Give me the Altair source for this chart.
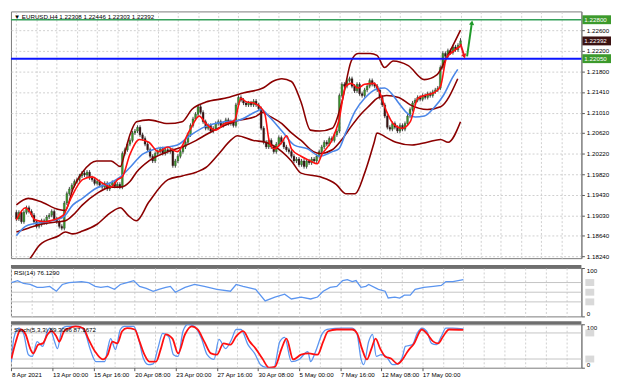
import altair as alt
import pandas as pd

# ---------------- data ----------------
symbol = "EURUSD,H4"
last_ohlc = [1.22308, 1.22446, 1.22303, 1.22392]
rsi_title = "RSI(14) 76.1290"
stoch_title = "Stoch(5,3,3) 89.3096 87.1672"

closes = [1.18964, 1.1909, 1.1891, 1.1909,
          1.1918, 1.19108, 1.19036, 1.1891,
          1.1882, 1.18856, 1.18928, 1.18892,
          1.19, 1.19036, 1.19108, 1.18964,
          1.1891, 1.1882, 1.18784, 1.1927,
          1.1945, 1.1954, 1.19612, 1.19684,
          1.1972, 1.19792, 1.19846, 1.1981,
          1.19864, 1.19756, 1.1972, 1.19648,
          1.19684, 1.19612, 1.19576, 1.19648,
          1.1954, 1.19612, 1.19666, 1.19594,
          1.1963, 1.19576, 1.20224, 1.20296,
          1.20404, 1.20476, 1.2062, 1.20656,
          1.20728, 1.20584, 1.20512, 1.20404,
          1.20296, 1.2017, 1.2008, 1.20224,
          1.2026, 1.20314, 1.20224, 1.20296,
          1.2026, 1.20296, 1.1999, 1.2008,
          1.2017, 1.2026, 1.2035, 1.2044,
          1.20584, 1.20764, 1.2089, 1.2098,
          1.21124, 1.21016, 1.20836, 1.2071,
          1.20764, 1.20656, 1.2071, 1.208,
          1.20836, 1.20764, 1.208, 1.20872,
          1.208, 1.20836, 1.20764, 1.2116,
          1.21304, 1.2125, 1.21196, 1.2116,
          1.21196, 1.2116, 1.21232, 1.2116,
          1.21088, 1.2071, 1.2044, 1.2035,
          1.20476, 1.2035, 1.2026, 1.20404,
          1.2053, 1.2044, 1.2035, 1.20296,
          1.2026, 1.2017, 1.2008, 1.20116,
          1.20008, 1.2008, 1.19972, 1.2008,
          1.20044, 1.20116, 1.2008, 1.2017,
          1.2026, 1.2035, 1.2044, 1.20404,
          1.20512, 1.20476, 1.20584, 1.20656,
          1.2134, 1.21556, 1.2152, 1.21628,
          1.21664, 1.2152, 1.2143, 1.21556,
          1.21376, 1.2134, 1.21448, 1.2152,
          1.21628, 1.21556, 1.2152, 1.21448,
          1.21304, 1.2116, 1.20944, 1.20728,
          1.20692, 1.208, 1.20728, 1.20656,
          1.20764, 1.20692, 1.208, 1.20944,
          1.2107, 1.21196, 1.2125, 1.21304,
          1.21268, 1.2134, 1.21304, 1.21376,
          1.2134, 1.21412, 1.21448, 1.21484,
          1.2188, 1.2215, 1.22096, 1.22204,
          1.22168, 1.22276, 1.22222, 1.22308,
          1.22392]
first_open = 1.1909
wick = 0.0004

tick_labels = ["8 Apr 2021", "13 Apr 00:00", "15 Apr 16:00", "20 Apr 08:00", "23 Apr 00:00",
               "27 Apr 16:00", "30 Apr 08:00", "5 May 00:00", "7 May 16:00", "12 May 08:00",
               "17 May 00:00"]
price_ticks = [1.18240, 1.18640, 1.19030, 1.19430, 1.19820, 1.20220, 1.20620,
               1.21010, 1.21410, 1.21800, 1.22200, 1.22600]

red_i = [0, 3.6, 5.5, 7.3, 11.1, 14.9, 18.6, 21.6, 26.2, 29.9, 33.7, 37.5, 40.1, 42, 45, 48.8,
         52.5, 56.3, 60.1, 61.9, 63.8, 68.7, 72.5, 75.1, 78.9, 82.6, 86.4, 89, 91.3, 93.9, 96.6,
         98.5, 100.3, 102.2, 105.2, 107.1, 109, 112.8, 116.5, 119.2, 121.1, 125.2, 127.8, 130.5,
         132.7, 135.4, 138, 141.8, 144, 146.7, 149.3, 153, 156.1, 159.1, 161.7, 165.5, 168.1,
         170.4, 173, 176]
red_v = [1.18946, 1.1918, 1.1909, 1.18946, 1.1891, 1.18946, 1.19036, 1.1936, 1.1972, 1.19774,
         1.19666, 1.19576, 1.1972, 1.19774, 1.20206, 1.20494, 1.2044, 1.2026, 1.2035, 1.20296,
         1.2026, 1.20674, 1.20944, 1.208, 1.20674, 1.208, 1.20854, 1.21286, 1.21214, 1.21196,
         1.21124, 1.2098, 1.2044, 1.20314, 1.2044, 1.20566, 1.20314, 1.2017, 1.2008, 1.20026,
         1.20206, 1.20494, 1.20854, 1.2152, 1.21574, 1.21484, 1.21556, 1.21574, 1.21394,
         1.21034, 1.208, 1.2071, 1.20836, 1.21286, 1.2134, 1.21394, 1.2152, 1.2206, 1.22186,
         1.22294]

blue_i = [0, 3.6, 7.3, 12.2, 18.6, 22.4, 26.2, 31.1, 37.5, 41.2, 45, 49.9, 55.2, 60.1, 63.8,
          68.7, 75.1, 82.6, 87.5, 95.1, 97, 100.3, 105.2, 110.1, 115.4, 120.3, 125.2, 127.8,
          130.5, 134.2, 138, 142.9, 145.9, 149.3, 151.5, 155.3, 158, 161.7, 165.5, 169.2, 173,
          174.9]
blue_v = [1.1864, 1.1882, 1.18874, 1.1891, 1.19, 1.19234, 1.1936, 1.1954, 1.19666, 1.19774,
          1.19954, 1.20206, 1.20314, 1.2035, 1.20386, 1.20566, 1.20746, 1.20836, 1.20854,
          1.21034, 1.2107, 1.20926, 1.20656, 1.20386, 1.20314, 1.2017, 1.2026, 1.20314, 1.2062,
          1.21034, 1.21286, 1.21466, 1.21484, 1.2134, 1.21196, 1.2098, 1.20926, 1.20944,
          1.21106, 1.2134, 1.217, 1.21844]

bb_up_i = [0, 4.7, 9.2, 16.8, 19.4, 22.4, 26.2, 31.8, 37.5, 41.2, 43.1, 45, 47.6, 52.5, 60.1,
           65.7, 69.5, 75.1, 82.6, 90.2, 97.7, 101.5, 105.2, 109, 112.8, 116.5, 120.3, 125.2,
           129, 132.7, 135.4, 140.2, 142.9, 145.9, 149.3, 155.3, 161.7, 166.6, 170.4, 176]
bb_up_v = [1.19234, 1.1936, 1.19306, 1.19144, 1.19126, 1.1954, 1.19864, 1.2008, 1.2008,
           1.19972, 1.2026, 1.20584, 1.20836, 1.20872, 1.208, 1.20836, 1.2107, 1.21214, 1.21286,
           1.21394, 1.21484, 1.2161, 1.21664, 1.2161, 1.21214, 1.20674, 1.20656, 1.2071,
           1.21214, 1.22006, 1.2215, 1.2215, 1.22114, 1.2188, 1.22006, 1.21916, 1.21646,
           1.21736, 1.2206, 1.2260]

bb_mid_i = [0, 4.7, 9.2, 16.8, 19.4, 22.4, 26.2, 31.8, 37.5, 41.2, 45, 47.6, 52.5, 60.1, 65.7,
            71.3, 75.1, 80, 87.5, 95.1, 97.7, 100.3, 105.2, 109, 112.8, 117.7, 120.3, 125.2,
            129, 132.7, 136.5, 140.2, 142.9, 146.7, 151.5, 156.1, 162.8, 168.1, 174.9]
bb_mid_v = [1.18712, 1.18784, 1.18856, 1.1891, 1.18928, 1.19036, 1.19234, 1.1945, 1.19576,
            1.19576, 1.19684, 1.19864, 1.2008, 1.2026, 1.2035, 1.20476, 1.20584, 1.2071,
            1.20854, 1.20944, 1.21016, 1.20944, 1.208, 1.2062, 1.20476, 1.2026, 1.20224,
            1.20296, 1.20494, 1.20746, 1.2098, 1.2116, 1.21286, 1.2134, 1.21304, 1.2116, 1.2107,
            1.21124, 1.21664]

bb_lo_i = [2.8, 5.5, 9.2, 16.8, 19.4, 22.4, 26.2, 31.8, 37.5, 41.2, 44.2, 47.6, 52.5, 60.1,
           65.7, 71.3, 75.1, 80, 85.3, 87.5, 93.9, 98.8, 105.2, 109, 112.8, 120.3, 126.7, 130.5,
           134.2, 138, 141.8, 142.9, 146.7, 150.4, 156.8, 162.8, 168.1, 171.1, 176]
bb_lo_v = [1.18064, 1.18208, 1.1846, 1.1864, 1.18712, 1.18676, 1.1873, 1.18856, 1.1909, 1.1918,
           1.19036, 1.18928, 1.19288, 1.1972, 1.19792, 1.19864, 1.19954, 1.20206, 1.20494,
           1.20566, 1.20476, 1.2044, 1.2026, 1.2008, 1.19846, 1.19774, 1.1963, 1.1945, 1.1945,
           1.19846, 1.2044, 1.2062, 1.2053, 1.2044, 1.20386, 1.2044, 1.20494, 1.2044, 1.20836]

rsi_i = [0, 2.4, 4.7, 7.3, 10, 12.2, 14.9, 17.5, 19.8, 22.4, 27.3, 29.9, 32.6, 34.8, 37.5,
         40.1, 42.4, 45, 47.6, 49.9, 52.5, 55.2, 57.4, 60.1, 61.9, 63.8, 67.6, 71.3, 75.1, 80,
         85.3, 87.5, 90.2, 95.1, 98.8, 102.6, 106.4, 109, 112.8, 116.5, 119.2, 121.4, 124.1,
         126.7, 129, 130.8, 132.7, 134.2, 136.1, 138, 139.1, 142.9, 145.5, 146.7, 149.3, 151.2,
         153, 155.3, 157.2, 160.6, 164.3, 167.4, 169.2, 171.9, 176]
rsi_v = [70, 74, 68, 66, 60, 60, 62, 52, 66, 70, 72, 70, 62, 60, 62, 56, 66, 70, 74, 62, 58,
         52, 56, 60, 62, 50, 60, 66, 62, 56, 52, 66, 62, 56, 32, 40, 46, 36, 40, 36, 40, 52, 60,
         62, 74, 76, 72, 74, 60, 62, 66, 56, 52, 38, 40, 38, 44, 44, 56, 60, 62, 64, 72, 72,
         76.129]

stk_i = [0, 0.9, 2.8, 4.7, 6.6, 8.1, 10, 12.2, 13.7, 14.9, 16.8, 17.9, 19.8, 21.6, 26.2, 28.8,
         30.7, 32.9, 36.3, 37.5, 38.6, 40.5, 42.4, 43.9, 47.6, 49.5, 51.4, 53.3, 55.2, 57, 58.9,
         61.2, 63.1, 64.9, 66.8, 68.7, 71.3, 74, 76.2, 78.9, 80.8, 83.4, 85.7, 87.5, 89.4, 92.1,
         94.7, 97, 99.6, 102.2, 104.5, 106.4, 109, 112, 115.4, 116.5, 118.4, 121.1, 122.9, 129,
         132.7, 134.6, 136.1, 137.2, 139.1, 140.6, 142.1, 144, 145.9, 148.5, 150.4, 152.3,
         153.4, 156.1, 158, 159.8, 161.7, 163.6, 165.5, 167.4, 169.2, 171.9, 176]
stk_v = [14, 67, 91, 79, 30, 26, 60, 49, 79, 91, 60, 44, 91, 95, 95, 79, 42, 14, 14, 44, 67,
         42, 88, 95, 95, 67, 21, 7, 9, 44, 79, 72, 30, 26, 84, 100, 95, 67, 30, 19, 65, 44, 65,
         88, 88, 53, 33, 7, 0, 0, 60, 70, 14, 19, 37, 14, 37, 79, 88, 91, 91, 77, 21, 7, 60, 77,
         26, 30, 26, 7, 9, 26, 49, 53, 79, 91, 84, 56, 53, 72, 91, 91, 89.3096]

sig_i = [0, 1.7, 3.6, 5.5, 7.3, 8.5, 10.4, 12.2, 14.1, 15.6, 17.5, 18.6, 20.5, 22.4, 25, 28,
         29.9, 32.6, 35.6, 37.5, 39.3, 41.2, 43.1, 45, 48, 49.9, 51.8, 53.7, 56.3, 58.2, 60.1,
         62.7, 64.9, 67.6, 70.2, 72.5, 75.1, 77.7, 80, 82.6, 85.3, 87.5, 90.2, 92.8, 95.1, 97.7,
         100.3, 102.6, 105.2, 107.1, 109.7, 112.8, 115.8, 119.2, 121.4, 123.3, 126.7, 130.5,
         132.7, 134.6, 136.5, 138.4, 140.2, 141.8, 143.6, 145.5, 147.8, 150.4, 152.3, 154.2,
         156.8, 159.8, 161.7, 164.3, 166.2, 168.1, 170.4, 176]
sig_v = [21, 60, 88, 77, 44, 33, 53, 56, 77, 84, 72, 60, 84, 91, 95, 91, 67, 37, 19, 30, 60,
         56, 84, 91, 88, 60, 30, 14, 14, 44, 77, 67, 33, 77, 95, 88, 60, 33, 30, 56, 53, 72, 84,
         60, 44, 21, 0, 2, 44, 67, 19, 30, 33, 30, 60, 84, 88, 88, 88, 79, 44, 19, 44, 67, 44,
         26, 21, 9, 19, 37, 56, 88, 79, 60, 56, 72, 88, 87.1672]

resistance = 1.22800
support = 1.22050
rsi_levels = [30, 50, 70]
stoch_levels = [20, 80]
arrow_red = [[176.0, 1.2233], [177.5, 1.22096]]
arrow_green = [[178.6, 1.22096], [180.5, 1.22744]]

# ---------------- layout ----------------
W = 578
HM, HR, HS = 250, 49, 44
XDOM = [-0.19, 221.95]
PDOM = [1.18208, 1.2296]
FONT = "Liberation Sans"
FS = 6.3
MAROON = "#8b0000"

opens = [first_open] + closes[:-1]
rows = []
for k, (o, c) in enumerate(zip(opens, closes)):
    hi = max(o, c) + wick
    lo = min(o, c) - wick
    if k == len(closes) - 1:
        o, hi, lo, c = last_ohlc
    rows.append({"i": k, "o": o, "c": c, "h": hi, "l": lo, "d": "up" if c >= o else "down"})
candles = pd.DataFrame(rows)

XSC = alt.Scale(domain=XDOM, nice=False, zero=False)
PSC = alt.Scale(domain=PDOM, nice=False, zero=False)
XAXIS = alt.Axis(values=list(range(0, 224, 8)), grid=True, labels=False, ticks=False,
                 domain=False, title=None)
PAXIS = alt.Axis(orient="right", values=price_ticks, format=".5f", grid=True,
                 title=None, labelFlush=False, labelOverlap=False)


def xg(field="i:Q"):
    return alt.X(field, scale=XSC, axis=XAXIS)


def yprice(field):
    return alt.Y(field, scale=PSC, axis=PAXIS)


def line_df(ii, vv):
    return pd.DataFrame({"i": ii, "v": vv})


base_c = alt.Chart(candles)
wicks = base_c.mark_rule(color="#1e1e1e", strokeWidth=0.8).encode(x=xg(), y=yprice("l:Q"), y2="h:Q")
bodies = base_c.mark_bar(size=1.9, stroke="#1e1e1e", strokeWidth=0.3).encode(
    x=xg(), y=yprice("o:Q"), y2="c:Q",
    color=alt.Color("d:N", scale=alt.Scale(domain=["up", "down"], range=["#3c9a2c", "#3b1212"]),
                    legend=None))


def pline(ii, vv, color, width):
    return alt.Chart(line_df(ii, vv)).mark_line(color=color, strokeWidth=width,
                                                interpolate="monotone", clip=True).encode(
        x=xg(), y=yprice("v:Q"))


bb_up = pline(bb_up_i, bb_up_v, MAROON, 1.6)
bb_mid = pline(bb_mid_i, bb_mid_v, MAROON, 1.6)
bb_lo = pline(bb_lo_i, bb_lo_v, MAROON, 1.6)
ma_blue = pline(blue_i, blue_v, "#4a86e8", 1.6)
ma_red = pline(red_i, red_v, "#ff1010", 1.6)

res_line = alt.Chart(pd.DataFrame({"v": [resistance]})).mark_rule(color="#35a05a", strokeWidth=1.5).encode(
    y=yprice("v:Q"))
sup_line = alt.Chart(pd.DataFrame({"v": [support]})).mark_rule(color="#0a14ff", strokeWidth=2).encode(
    y=yprice("v:Q"))


def arrow(pts, color, shape, angle):
    df = pd.DataFrame({"i": [pts[0][0]], "v": [pts[0][1]], "i2": [pts[1][0]], "v2": [pts[1][1]]})
    shaft = alt.Chart(df).mark_rule(color=color, strokeWidth=2).encode(
        x=xg(), y=yprice("v:Q"), x2="i2:Q", y2="v2:Q")
    head = alt.Chart(df).mark_point(shape=shape, filled=True, color=color, size=28, angle=angle,
                                    opacity=1).encode(x=xg("i2:Q"), y=yprice("v2:Q"))
    return shaft + head


arr_r = arrow(arrow_red, "#e8141b", "triangle-down", 343)
arr_g = arrow(arrow_green, "#1f9a2a", "triangle-up", 8)

boxes_df = pd.DataFrame({"v": [resistance, last_ohlc[3], support],
                         "t": [f"{resistance:.5f}", f"{last_ohlc[3]:.5f}", f"{support:.5f}"],
                         "k": ["g", "k", "b"]})
boxes = alt.Chart(boxes_df).mark_rect(yOffset=-4.5, y2Offset=4.5).encode(
    x=alt.value(W + 1), x2=alt.value(W + 30), y=yprice("v:Q"), y2="v:Q",
    color=alt.Color("k:N", scale=alt.Scale(domain=["g", "k", "b"],
                                           range=["#35a05a", "#000000", "#0a14ff"]), legend=None))
box_txt = alt.Chart(boxes_df).mark_text(align="left", baseline="middle", font=FONT, fontSize=FS,
                                        color="white").encode(
    x=alt.value(W + 3), y=yprice("v:Q"), text="t:N")

title_main = alt.Chart(pd.DataFrame({"t": ["\u25bc " + symbol + "  " + " ".join(f"{p:.5f}" for p in last_ohlc)]})).mark_text(
    align="left", baseline="middle", font=FONT, fontSize=FS, color="#000").encode(
    x=alt.value(3), y=alt.value(5.5), text="t:N")

main = alt.layer(wicks, bodies, bb_up, bb_mid, bb_lo, ma_blue, ma_red, res_line, sup_line,
                 arr_r, arr_g, boxes, box_txt, title_main).properties(width=W, height=HM)


# ---------------- RSI ----------------
def yind(field, dom_vals):
    return alt.Y(field, scale=alt.Scale(domain=[0, 100], nice=False, zero=False),
                 axis=alt.Axis(orient="right", values=dom_vals, grid=False, title=None,
                               labelFlush=True, format="d"))


def sep():
    return alt.Chart(pd.DataFrame({"a": [0]})).mark_rule(color="#6e6e6e", strokeWidth=3).encode(
        x=alt.value(0), x2=alt.value(W), y=alt.value(-1.5))


def level_parts(levels):
    df = pd.DataFrame({"v": levels})
    rules = alt.Chart(df).mark_rule(color="#c4c4c4", strokeWidth=1).encode(y=yind("v:Q", [0, 100]))
    rb = alt.Chart(df).mark_rect(yOffset=-3.5, y2Offset=3.5, color="#d9d9d9").encode(
        x=alt.value(W + 4), x2=alt.value(W + 13), y=yind("v:Q", [0, 100]), y2="v:Q")
    return rules, rb


r_rules, r_box = level_parts(rsi_levels)
rsi_line = alt.Chart(line_df(rsi_i, rsi_v)).mark_line(color="#5b95f0", strokeWidth=1.3).encode(
    x=xg(), y=yind("v:Q", [0, 100]))
rsi_t = alt.Chart(pd.DataFrame({"t": [rsi_title]})).mark_text(
    align="left", baseline="middle", font=FONT, fontSize=FS, color="#000").encode(
    x=alt.value(3), y=alt.value(5.5), text="t:N")
rsi = alt.layer(r_rules, rsi_line, r_box, rsi_t, sep()).properties(width=W, height=HR)

# ---------------- Stochastic ----------------
s_rules, s_box = level_parts(stoch_levels)
x_top_grid = alt.X("i:Q", scale=XSC,
                   axis=alt.Axis(values=list(range(0, 224, 8)), grid=True, labels=False,
                                 ticks=False, domain=False, title=None, orient="top"))
x_labels = alt.X("i:Q", scale=XSC,
                 axis=alt.Axis(values=list(range(0, 176, 16)), grid=False, title=None,
                               orient="bottom", domain=False, tickSize=3, labelAlign="left",
                               labelPadding=1, labelFlush=False, labelOverlap=False,
                               labelExpr=str(tick_labels) + "[round(datum.value/16)]"))
stk_line = alt.Chart(line_df(stk_i, stk_v)).mark_line(color="#5b95f0", strokeWidth=1.3,
                                                      interpolate="monotone", clip=True).encode(
    x=x_top_grid, y=yind("v:Q", [0, 100]))
sig_line = alt.Chart(line_df(sig_i, sig_v)).mark_line(color="#ff1010", strokeWidth=1.8,
                                                      interpolate="monotone", clip=True).encode(
    x=x_labels, y=yind("v:Q", [0, 100]))
sto_t = alt.Chart(pd.DataFrame({"t": [stoch_title]})).mark_text(
    align="left", baseline="middle", font=FONT, fontSize=FS, color="#000").encode(
    x=alt.value(3), y=alt.value(5.5), text="t:N")
stoch = alt.layer(s_rules, stk_line, sig_line, s_box, sto_t, sep()).resolve_axis(
    x="independent").properties(width=W, height=HS)

chart = alt.vconcat(main, rsi, stoch, spacing=3, padding=0).configure_view(
    stroke="#7a7a7a", strokeWidth=1).configure_axis(
    labelFont=FONT, labelFontSize=FS, labelColor="#000", gridColor="#cfcfcf", gridDash=[2, 2],
    gridWidth=1, tickColor="#555", tickSize=3, domainColor="#7a7a7a", labelPadding=2,
    labelOverlap=False)

chart.save("out.html", embed_options={"renderer": "svg", "actions": False})
